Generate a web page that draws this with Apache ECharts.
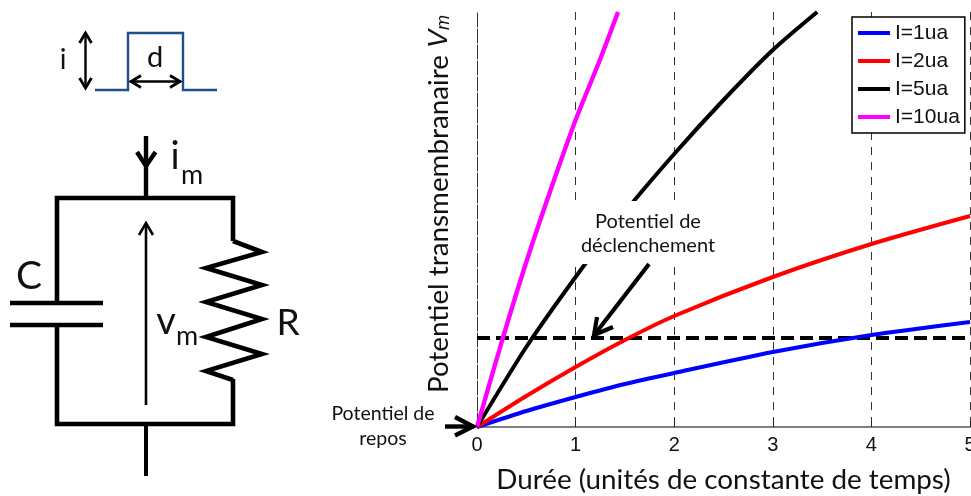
<!DOCTYPE html>
<html><head><meta charset="utf-8">
<script src="https://cdn.jsdelivr.net/npm/echarts@6/dist/echarts.min.js"></script>
<style>html,body{margin:0;padding:0;background:#fff}#c{width:971px;height:496px}</style>
</head><body><div id="c"></div>
<script>
const durationTicks = ['0','1','2','3','4','5'];
const seriesNames = ['I=1ua','I=2ua','I=5ua','I=10ua'];
const colors = ['#0000ff','#ff0000','#000000','#ff00ff'];
const t1 = [0,0.5,1,1.5,2,3,4,5];
const v1 = [0,16,30,43,54,75,92,105];
const t2 = [0,0.5,1,1.5,2,3,4,5];
const v2 = [0,31,60,87,111,150,183,211];
const t5 = [0,0.5,1,1.5,2,2.5,3,3.45];
const v5 = [0,80,150,215,273,327,377,415];
const t10 = [0,0.25,0.5,0.75,1,1.25,1.43];
const v10 = [0,85,165,238,307,368,415];
const thresholdT = [0,5];
const thresholdV = [89,89];
const zip = (a,b)=>a.map((x,i)=>[x,b[i]]);

const INK = '#000';
const CAL = 'Lato, "Open Sans", sans-serif';
const poly = (points,width,color=INK,z=10)=>({type:'polyline',z,shape:{points},style:{stroke:color,lineWidth:width,fill:null,lineJoin:'miter'}});
const txt = (text,x,y,size,extra={})=>({type:'text',z:11,x,y,style:Object.assign({text,fill:'#111',font:size+'px '+CAL,textAlign:'center',textVerticalAlign:'middle'},extra)});

const graphics = [
  // pulse stimulus
  poly([[95,90],[128,90],[128,33],[183,33],[183,90],[217,90]],2.4,'#1f4e8c'),
  poly([[85.5,33],[85.5,88]],2.4),
  poly([[79.5,43],[85.5,33],[91.5,43]],2.8),
  poly([[79.5,78],[85.5,88],[91.5,78]],2.8),
  poly([[130,81.5],[181,81.5]],2.4),
  poly([[141,75.5],[131,81.5],[141,87.5]],2.8),
  poly([[170,75.5],[180,81.5],[170,87.5]],2.8),
  txt('i',63,60,28),
  txt('d',155,58,29),
  // circuit
  poly([[146,136],[146,198]],4.4),
  poly([[137,152],[146,166],[155.5,152]],4.4),
  txt('i',175,157,38),
  txt('m',192,175,27),
  poly([[57,303],[57,198],[233,198],[233,241]],4.6),
  poly([[233,241],[262,252],[206,268],[262,285],[206,302],[262,319],[206,337],[262,354],[206,371],[233,380]],4.6),
  poly([[233,379],[233,424],[57,424],[57,325]],4.6),
  poly([[10,303],[103,303]],4.6),
  poly([[10,325],[103,325]],4.6),
  poly([[146,424],[146,476]],4),
  poly([[146,405],[146,224]],2.6),
  poly([[139,235],[146,223],[153,235]],2.6),
  txt('C',29,276,39),
  txt('R',288,323,37),
  txt('v',166,322,38),
  txt('m',187,336,27),
  // annotations
  {type:'rect',z:9,shape:{x:564,y:201,width:166,height:63},style:{fill:'#fff'}},
  txt('Potentiel de',648,222,20),
  txt('déclenchement',648,246,20),
  poly([[649,264],[595,334]],4.2),
  poly([[597,317],[594,335],[613,327]],4.2),
  txt('Potentiel de',383,414,19.5),
  txt('repos',383,439,19.5),
  poly([[445,426.5],[474,426.5]],4.4),
  poly([[455,417],[473,426.5],[455,435.5]],4.4)
];

const chart = echarts.init(document.getElementById('c'),null,{renderer:'canvas'});
chart.setOption({
  animation:false,
  backgroundColor:'#fff',
  grid:{left:477,top:12,width:493,height:415,containLabel:false,outerBoundsMode:'none'},
  legend:{
    data:seriesNames,orient:'vertical',left:852,top:17,
    padding:[4,5,4,6],itemGap:4,itemWidth:32,itemHeight:4,icon:'rect',
    backgroundColor:'#fff',borderColor:'#000',borderWidth:1.5,borderRadius:0,z:8,
    textStyle:{fontFamily:'"Liberation Sans"',fontSize:21,color:'#111',padding:[0,0,0,0],lineHeight:24}
  },
  xAxis:{
    type:'value',min:0,max:5,interval:1,
    name:'Durée (unités de constante de temps)',nameLocation:'middle',nameGap:39,
    nameTextStyle:{fontFamily:CAL,fontSize:27.8,color:'#111'},
    axisLine:{lineStyle:{color:'#808080',width:2}},
    axisTick:{inside:true,length:6,lineStyle:{color:'#222',width:1}},
    axisLabel:{color:'#111',fontFamily:'"Liberation Sans"',fontSize:20,margin:8,formatter:v=>durationTicks[v]},
    splitLine:{show:true,showMinLine:false,lineStyle:{color:'#333',width:1,type:[8,7]}}
  },
  yAxis:{
    type:'value',min:0,max:415,
    name:'{p|Potentiel transmembranaire }{v|V}{m|m}',nameLocation:'middle',nameRotate:90,nameGap:24,
    nameTextStyle:{
      padding:[0,0,0,31],
      rich:{
        p:{fontFamily:CAL,fontSize:27.8,color:'#111'},
        v:{fontFamily:'"Liberation Sans"',fontStyle:'italic',fontSize:27,color:'#111'},
        m:{fontFamily:'"Liberation Sans"',fontStyle:'italic',fontSize:18,color:'#111',verticalAlign:'bottom',padding:[8,0,0,0]}
      }
    },
    axisLine:{show:true,lineStyle:{color:'#333',width:1,type:[14,2]}},
    axisTick:{show:false},axisLabel:{show:false},splitLine:{show:false}
  },
  series:[
    {type:'line',name:'threshold',data:zip(thresholdT,thresholdV),symbol:'none',silent:true,z:1,
     lineStyle:{color:'#000',width:4,type:[13,6]}},
    ...[[t1,v1],[t2,v2],[t5,v5],[t10,v10]].map(([t,v],i)=>({
      type:'line',name:seriesNames[i],data:zip(t,v),symbol:'none',smooth:0.25,clip:true,z:2+i,
      itemStyle:{color:colors[i]},
      lineStyle:{color:colors[i],width:i===3?4.4:4}
    }))
  ],
  graphic:{elements:graphics}
});
</script></body></html>
